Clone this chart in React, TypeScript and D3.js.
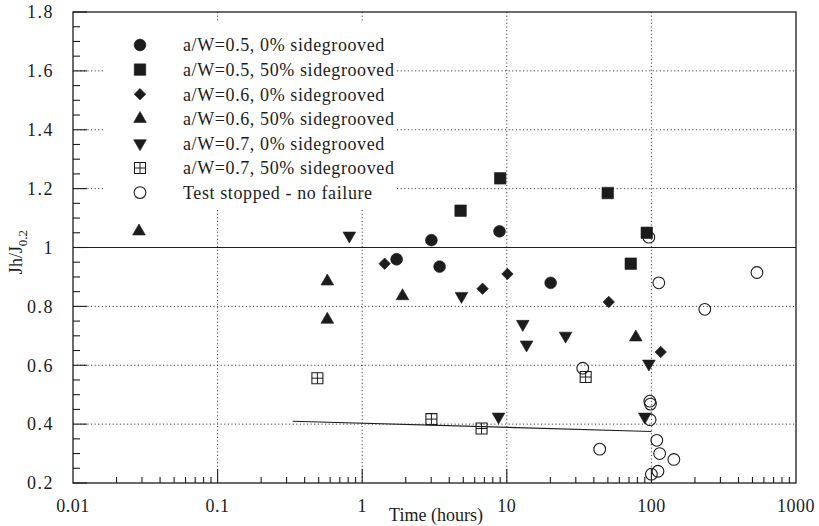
import React, { useEffect, useRef } from 'react';
import * as d3 from 'd3';

// a/W=0.5, 0% sidegrooved
const circleTimes = [1.73, 3.01, 3.43, 8.9, 20.1];
const circleValues = [0.96, 1.025, 0.935, 1.055, 0.88];
// a/W=0.5, 50% sidegrooved
const squareTimes = [4.79, 9.0, 49.9, 92.9, 72];
const squareValues = [1.125, 1.235, 1.185, 1.05, 0.945];
// a/W=0.6, 0% sidegrooved
const diamondTimes = [1.43, 6.8, 10.1, 50.7, 116];
const diamondValues = [0.945, 0.86, 0.91, 0.815, 0.645];
// a/W=0.6, 50% sidegrooved
const triUpTimes = [0.0286, 0.574, 0.574, 1.9, 78];
const triUpValues = [1.055, 0.885, 0.755, 0.835, 0.695];
// a/W=0.7, 0% sidegrooved
const triDownTimes = [0.815, 4.86, 12.9, 13.7, 25.5, 96, 8.77, 90];
const triDownValues = [1.04, 0.835, 0.74, 0.67, 0.7, 0.605, 0.425, 0.425];
// a/W=0.7, 50% sidegrooved
const boxPlusTimes = [0.49, 3.01, 6.69, 35.1];
const boxPlusValues = [0.556, 0.417, 0.385, 0.56];
// Test stopped - no failure
const openTimes = [33.5, 96, 112.5, 537, 234, 97.5, 98.5, 98, 109, 114, 143, 43.9, 111, 100];
const openValues = [0.59, 1.035, 0.88, 0.915, 0.79, 0.478, 0.468, 0.415, 0.345, 0.3, 0.28, 0.315, 0.24, 0.23];

const refLineTimes = [0.01, 1000];
const refLineValues = [1, 1];
const trendTimes = [0.33, 100];
const trendValues = [0.41, 0.375];

const legendLabels = [
  'a/W=0.5, 0% sidegrooved',
  'a/W=0.5, 50% sidegrooved',
  'a/W=0.6, 0% sidegrooved',
  'a/W=0.6, 50% sidegrooved',
  'a/W=0.7, 0% sidegrooved',
  'a/W=0.7, 50% sidegrooved',
  'Test stopped - no failure',
];
const xTickValues = [0.01, 0.1, 1, 10, 100, 1000];
const xTickLabels = ['0.01', '0.1', '1', '10', '100', '1000'];
const yTickValues = [0.2, 0.4, 0.6, 0.8, 1, 1.2, 1.4, 1.6, 1.8];
const yTickLabels = ['0.2', '0.4', '0.6', '0.8', '1', '1.2', '1.4', '1.6', '1.8'];

export default function App() {
  const ref = useRef<SVGSVGElement>(null);

  useEffect(() => {
    const width = 819;
    const height = 526;
    const margin = { top: 12, left: 73, bottom: 43, right: 23 };
    const iw = width - margin.left - margin.right;
    const ih = height - margin.top - margin.bottom;
    const ink = '#1c1c1c';
    const font = "'Liberation Serif', 'DejaVu Serif', 'Times New Roman', Times, serif";

    const svg = d3.select(ref.current);
    svg.selectAll('*').remove();
    svg.attr('width', width).attr('height', height).style('font-family', font);
    svg.append('rect').attr('width', width).attr('height', height).attr('fill', '#fff');

    const g = svg.append('g').attr('transform', `translate(${margin.left},${margin.top})`);

    const x = d3.scaleLog().domain([0.01, 1000]).range([0, iw]);
    const y = d3.scaleLinear().domain([0.2, 1.8]).range([ih, 0]);

    // grid
    const grid = g.append('g').attr('stroke', '#444').attr('stroke-width', 1).attr('stroke-dasharray', '1.2,2.4');
    grid.selectAll('.vg').data([0.1, 1, 10, 100]).enter().append('line')
      .attr('x1', (d) => x(d)).attr('x2', (d) => x(d)).attr('y1', 0).attr('y2', ih);
    grid.selectAll('.hg').data([0.4, 0.6, 0.8, 1.2, 1.4, 1.6]).enter().append('line')
      .attr('x1', 0).attr('x2', iw).attr('y1', (d) => y(d)).attr('y2', (d) => y(d));

    // legend background hides grid
    g.append('rect').attr('x', 30).attr('y', 10).attr('width', 294).attr('height', 188).attr('fill', '#fff');

    // lines
    const lineOf = (ts: number[], vs: number[]) =>
      d3.line<number>().x((d) => x(d)).y((_, i) => y(vs[i]))(ts);
    g.append('path').attr('d', lineOf(refLineTimes, refLineValues)).attr('stroke', ink).attr('stroke-width', 1.2).attr('fill', 'none');
    g.append('path').attr('d', lineOf(trendTimes, trendValues)).attr('stroke', ink).attr('stroke-width', 1.1).attr('fill', 'none');

    // frame
    g.append('rect').attr('width', iw).attr('height', ih).attr('fill', 'none').attr('stroke', ink).attr('stroke-width', 1.3);

    // y ticks
    const yMinor = d3.range(0.25, 1.8, 0.05).map((v) => +v.toFixed(2)).filter((v) => Math.round(v * 100) % 20 !== 0);
    g.selectAll('.ymin').data(yMinor).enter().append('line')
      .attr('x1', 0).attr('x2', 7).attr('y1', (d) => y(d)).attr('y2', (d) => y(d))
      .attr('stroke', ink).attr('stroke-width', 1.1);
    g.selectAll('.ymaj').data(yTickValues).enter().append('line')
      .attr('x1', 0).attr('x2', 14).attr('y1', (d) => y(d)).attr('y2', (d) => y(d))
      .attr('stroke', ink).attr('stroke-width', 1.1);
    g.selectAll('.ylab').data(yTickValues).enter().append('text')
      .attr('x', -19).attr('y', (d) => y(d)).attr('dy', '0.35em')
      .attr('text-anchor', 'end').attr('font-size', 18)
      .attr('letter-spacing', 1.5).attr('fill', ink)
      .text((_, i) => yTickLabels[i]);

    // x ticks
    const xMinor: number[] = [];
    [0.01, 0.1, 1, 10, 100].forEach((dec) => {
      for (let k = 2; k <= 9; k++) xMinor.push(dec * k);
    });
    g.selectAll('.xmin').data(xMinor).enter().append('line')
      .attr('x1', (d) => x(d)).attr('x2', (d) => x(d)).attr('y1', ih).attr('y2', ih - 6)
      .attr('stroke', ink).attr('stroke-width', 1.1);
    g.selectAll('.xmaj').data(xTickValues.slice(1, -1)).enter().append('line')
      .attr('x1', (d) => x(d)).attr('x2', (d) => x(d)).attr('y1', ih).attr('y2', ih - 14)
      .attr('stroke', ink).attr('stroke-width', 1.1);
    g.selectAll('.xlab').data(xTickValues).enter().append('text')
      .attr('x', (d) => x(d)).attr('y', ih + 23).attr('dy', '0.35em')
      .attr('text-anchor', 'middle').attr('font-size', 18)
      .attr('letter-spacing', 0.5).attr('fill', ink)
      .text((_, i) => xTickLabels[i]);

    // axis titles
    svg.append('text').attr('x', 436).attr('y', 521).attr('text-anchor', 'middle')
      .attr('font-size', 18).attr('fill', ink).text('Time (hours)');
    const yt = svg.append('text').attr('transform', 'translate(22,252) rotate(-90)').attr('text-anchor', 'middle')
      .attr('font-size', 18).attr('fill', ink);
    yt.append('tspan').text('Jh/J');
    yt.append('tspan').attr('font-size', 13).attr('dy', 5).text('0.2');

    // markers
    const shapes = [
      { sym: d3.symbol().type(d3.symbolCircle).size(110), rot: 0, fill: ink, plus: false },
      { sym: d3.symbol().type(d3.symbolSquare).size(132), rot: 0, fill: ink, plus: false },
      { sym: d3.symbol().type(d3.symbolSquare).size(66), rot: 45, fill: ink, plus: false },
      { sym: d3.symbol().type(d3.symbolTriangle).size(70), rot: 0, fill: ink, plus: false },
      { sym: d3.symbol().type(d3.symbolTriangle).size(70), rot: 180, fill: ink, plus: false },
      { sym: d3.symbol().type(d3.symbolSquare).size(121), rot: 0, fill: 'none', plus: true },
      { sym: d3.symbol().type(d3.symbolCircle).size(108), rot: 0, fill: 'none', plus: false },
    ];
    const series = [
      [circleTimes, circleValues],
      [squareTimes, squareValues],
      [diamondTimes, diamondValues],
      [triUpTimes, triUpValues],
      [triDownTimes, triDownValues],
      [boxPlusTimes, boxPlusValues],
      [openTimes, openValues],
    ];

    const drawMarker = (sel: any, si: number) => {
      const s = shapes[si];
      sel.append('path').attr('d', s.sym() as string).attr('transform', `rotate(${s.rot})`)
        .attr('fill', s.fill).attr('stroke', ink).attr('stroke-width', s.fill === 'none' ? 1.1 : 0.6);
      if (s.plus) {
        sel.append('path').attr('d', 'M-5.5,0H5.5M0,-5.5V5.5').attr('stroke', ink).attr('stroke-width', 1);
      }
    };

    series.forEach(([ts, vs], si) => {
      ts.forEach((t, i) => {
        const m = g.append('g').attr('transform', `translate(${x(t)},${y(vs[i])})`);
        drawMarker(m, si);
      });
    });

    // legend
    legendLabels.forEach((label, i) => {
      const yy = 45 + i * 24.6;
      const m = svg.append('g').attr('transform', `translate(140,${yy})`);
      drawMarker(m, i);
      svg.append('text').attr('x', 183).attr('y', yy).attr('dy', '0.35em')
        .attr('font-size', 18).attr('letter-spacing', 0.6).attr('fill', ink).text(label);
    });
  }, []);

  return (
    <div id='chartArea' style={{ position: 'absolute', left: 0, top: 0 }}>
      <svg ref={ref}></svg>
    </div>
  );
}
